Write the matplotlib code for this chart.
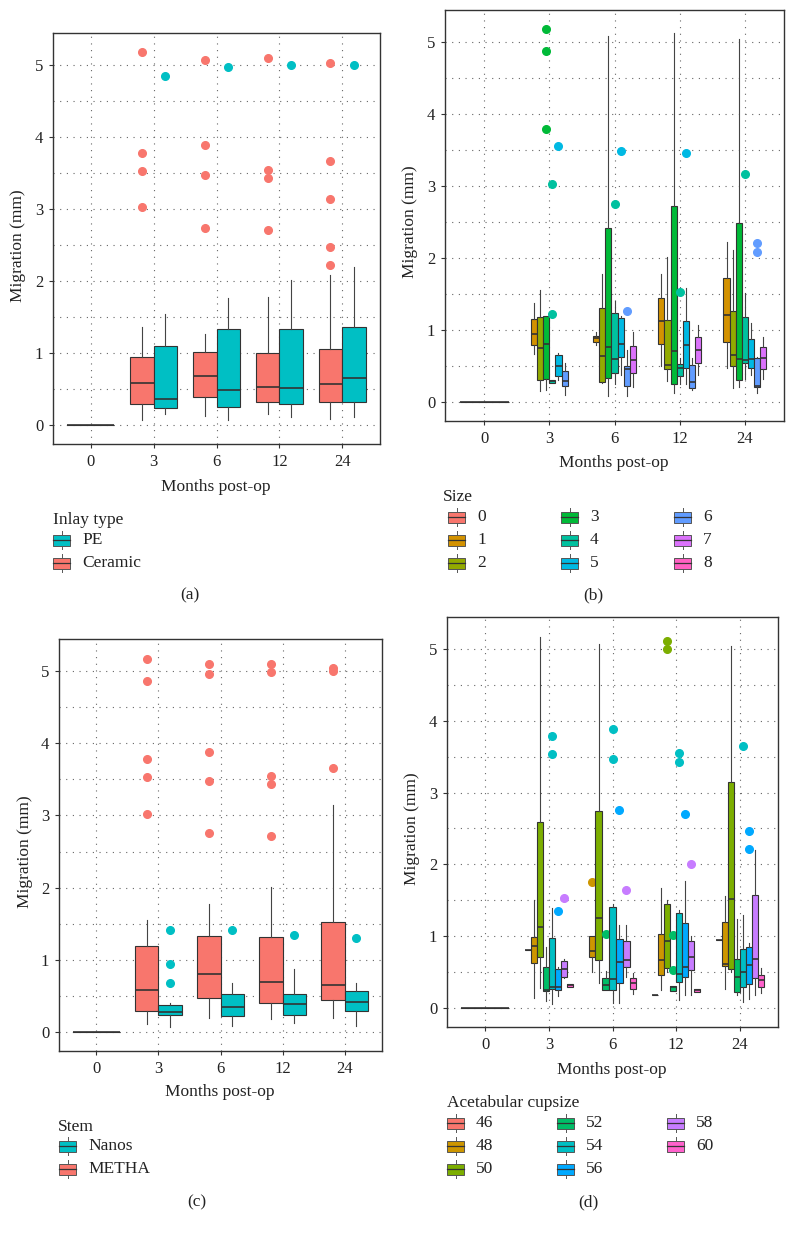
import matplotlib.pyplot as plt
from matplotlib.patches import Rectangle
import numpy as np

plt.rcParams['font.family'] = ['Liberation Serif', 'DejaVu Serif']

months = ['0', '3', '6', '12', '24']

# box stats per month: [whisker low, q1, median, q3, whisker high]; None = no group
# ---- (a) inlay type
a_levels = ['Ceramic', 'PE']
a_colors = ['#F8766D', '#00BFC4']
a_ceramic = [[0, 0, 0, 0, 0],
             [0.07, 0.30, 0.58, 0.94, 1.36],
             [0.13, 0.39, 0.68, 1.02, 1.26],
             [0.16, 0.32, 0.53, 1.00, 1.78],
             [0.09, 0.32, 0.57, 1.06, 2.09]]
a_ceramic_out = [[], [5.17, 3.78, 3.53, 3.02], [5.06, 3.88, 3.47, 2.74],
                 [5.10, 3.54, 3.43, 2.71], [5.02, 3.66, 3.14, 2.47, 2.22]]
a_pe = [None,
        [0.15, 0.24, 0.37, 1.10, 1.54],
        [0.07, 0.26, 0.49, 1.33, 1.76],
        [0.12, 0.30, 0.51, 1.34, 2.01],
        [0.12, 0.32, 0.66, 1.36, 2.20]]
a_pe_out = [[], [4.85], [4.97], [4.99], [5.00]]

# ---- (b) size
b_levels = ['0', '1', '2', '3', '4', '5', '6', '7', '8']
b_colors = ['#F8766D', '#D39200', '#93AA00', '#00BA38', '#00C19F',
            '#00B9E3', '#619CFF', '#DB72FB', '#FF61C3']
b_s0 = [[0, 0, 0, 0, 0], None, None, None, None]
b_s1 = [None, [0.67, 0.79, 0.94, 1.16, 1.37], [0.80, 0.84, 0.89, 0.92, 0.98],
        [0.50, 0.81, 1.12, 1.45, 1.78], [0.47, 0.84, 1.21, 1.72, 2.22]]
b_s2 = [None, [0.15, 0.31, 0.75, 1.18, 1.55], [0.27, 0.28, 0.64, 1.31, 1.78],
        [0.29, 0.46, 0.52, 1.14, 2.01], [0.20, 0.50, 0.65, 1.26, 2.11]]
b_s3 = [None, [0.17, 0.32, 0.81, 1.20, 1.20], [0.09, 0.33, 0.77, 2.42, 5.08],
        [0.13, 0.26, 0.71, 2.72, 5.12], [0.21, 0.31, 0.60, 2.48, 5.04]]
b_s4 = [None, [0.27, 0.27, 0.29, 0.31, 0.31], [0.26, 0.41, 0.60, 1.24, 1.41],
        [0.26, 0.36, 0.47, 0.53, 0.61], [0.32, 0.55, 0.59, 1.18, 1.51]]
b_s5 = [None, [0.31, 0.37, 0.50, 0.66, 0.68], [0.38, 0.63, 0.81, 1.17, 1.19],
        [0.26, 0.47, 0.80, 1.12, 1.58], [0.38, 0.48, 0.60, 0.88, 1.10]]
b_s6 = [None, [0.10, 0.23, 0.30, 0.44, 0.54], [0.08, 0.23, 0.46, 0.50, 0.73],
        [0.17, 0.20, 0.28, 0.51, 0.61], [0.13, 0.21, 0.23, 0.62, 0.63]]
b_s7 = [None, None, [0.21, 0.40, 0.59, 0.78, 0.97],
        [0.38, 0.54, 0.73, 0.90, 1.07], [0.32, 0.46, 0.62, 0.76, 0.91]]
b_s8 = [None, None, None, None, None]
b_out = {3: [[], [5.18, 4.87, 3.79], [], [], []],
         4: [[], [3.03, 1.23], [2.75], [1.53], [3.16]],
         5: [[], [3.55], [3.48], [3.45], []],
         6: [[], [], [1.27], [], [2.21, 2.09]]}

# ---- (c) stem
c_levels = ['METHA', 'Nanos']
c_colors = ['#F8766D', '#00BFC4']
c_metha = [[0, 0, 0, 0, 0],
           [0.11, 0.30, 0.59, 1.19, 1.55],
           [0.20, 0.48, 0.80, 1.33, 1.77],
           [0.18, 0.41, 0.69, 1.32, 2.01],
           [0.20, 0.45, 0.66, 1.53, 3.15]]
c_metha_out = [[], [5.17, 4.86, 3.78, 3.53, 3.02], [5.09, 4.96, 3.88, 3.47, 2.75],
               [5.10, 4.99, 3.55, 3.43, 2.71], [5.04, 5.00, 3.66]]
c_nanos = [None,
           [0.07, 0.24, 0.28, 0.37, 0.41],
           [0.08, 0.23, 0.35, 0.53, 0.68],
           [0.13, 0.24, 0.39, 0.53, 0.87],
           [0.09, 0.30, 0.42, 0.57, 0.68]]
c_nanos_out = [[], [1.41, 0.95, 0.68], [1.42], [1.34], [1.31]]

# ---- (d) acetabular cup size
d_levels = ['46', '48', '50', '52', '54', '56', '58', '60']
d_colors = ['#F8766D', '#CD9600', '#7CAE00', '#00BE67', '#00BFC4',
            '#00A9FF', '#C77CFF', '#FF61CC']
d_46 = [[0, 0, 0, 0, 0], [0.81] * 5, None, [0.18] * 5, [0.95] * 5]
d_48 = [None, [0.14, 0.63, 0.86, 0.99, 1.51], [0.51, 0.72, 0.79, 1.01, 1.01],
        [0.26, 0.46, 0.67, 1.03, 1.67], [0.27, 0.59, 0.62, 1.20, 1.56]]
d_50 = [None, [0.28, 0.72, 1.13, 2.59, 5.16], [0.35, 0.67, 1.26, 2.74, 5.06],
        [0.51, 0.56, 0.93, 1.45, 1.51], [0.51, 0.55, 1.52, 3.15, 5.03]]
d_52 = [None, [0.10, 0.24, 0.26, 0.57, 0.85], [0.25, 0.26, 0.33, 0.42, 0.52],
        [0.24, 0.24, 0.29, 0.31, 0.31], [0.18, 0.23, 0.44, 0.68, 1.24]]
d_54 = [None, [0.06, 0.27, 0.30, 0.98, 1.40], [0.07, 0.26, 0.41, 1.41, 1.45],
        [0.12, 0.36, 0.48, 1.33, 1.37], [0.09, 0.30, 0.51, 0.82, 1.30]]
d_56 = [None, [0.17, 0.26, 0.30, 0.55, 0.57], [0.07, 0.35, 0.65, 0.96, 1.16],
        [0.19, 0.44, 0.58, 1.19, 1.77], [0.13, 0.34, 0.60, 0.85, 0.91]]
d_58 = [None, [0.42, 0.44, 0.55, 0.66, 0.68], [0.44, 0.57, 0.67, 0.94, 1.16],
        [0.18, 0.53, 0.71, 0.94, 1.00], [0.19, 0.42, 0.68, 1.58, 2.20]]
d_60 = [None, [0.30, 0.30, 0.32, 0.34, 0.34], [0.20, 0.27, 0.35, 0.42, 0.49],
        [0.23, 0.23, 0.25, 0.27, 0.27], [0.21, 0.30, 0.40, 0.46, 0.56]]
d_out = {1: [[], [], [1.76], [], []],
         2: [[], [], [], [5.10, 4.99], []],
         3: [[], [], [1.03], [1.02, 0.53], []],
         4: [[], [3.78, 3.53], [3.88, 3.46], [3.55, 3.43], [3.65]],
         5: [[], [1.35], [2.75], [2.70], [2.47, 2.22]],
         6: [[], [1.54], [1.64], [2.01], []]}

EDGE = '#333333'
W, H = 795, 1234


def draw_panel(ax, colors, stats, outs, min_slots=1):
    for m in range(len(months)):
        present = [i for i in range(len(stats)) if stats[i][m] is not None]
        n = len(present)
        w = 0.75 / max(n, min_slots) if n > 1 else 0.75
        for j, i in enumerate(present):
            pos = m + 1 + (j - (n - 1) / 2) * w
            lo, q1, med, q3, hi = stats[i][m]
            bx = dict(whislo=lo, q1=q1, med=med, q3=q3, whishi=hi,
                      fliers=outs.get(i, [[]] * 5)[m])
            c = colors[i]
            ax.bxp([bx], positions=[pos], widths=w, patch_artist=True,
                   showcaps=False, manage_ticks=False,
                   boxprops=dict(facecolor=c, edgecolor=EDGE, linewidth=0.8),
                   medianprops=dict(color=EDGE, linewidth=1.2),
                   whiskerprops=dict(color='#444444', linewidth=0.8),
                   flierprops=dict(marker='o', markerfacecolor=c, markeredgecolor=c,
                                   markersize=5.5, linestyle='none'))
    ax.set_xlim(0.4, 5.6)
    ax.set_ylim(-0.26, 5.44)
    ax.set_xticks(range(1, 6))
    ax.set_xticklabels(months)
    ax.set_yticks(range(6))
    ax.set_yticks(np.arange(0.5, 5.5, 1), minor=True)
    ax.tick_params(which='major', direction='out', length=3, width=0.8,
                   color=EDGE, labelsize=12, labelcolor='#222222', pad=4)
    ax.tick_params(which='minor', length=0)
    ax.grid(True, which='both', linestyle=(0, (1, 5)), color='#666666', linewidth=0.8)
    ax.set_axisbelow(True)
    for s in ax.spines.values():
        s.set_color(EDGE)
        s.set_linewidth(1.0)


def add_axes_px(left, top, right, bottom):
    return fig.add_axes([left / W, 1 - bottom / H, (right - left) / W, (bottom - top) / H])


fig = plt.figure(figsize=(7.95, 12.34), dpi=100)

ax_a = add_axes_px(53, 33, 380, 444)
draw_panel(ax_a, a_colors, [a_ceramic, a_pe], {0: a_ceramic_out, 1: a_pe_out})

ax_b = add_axes_px(445, 10, 784, 421)
draw_panel(ax_b, b_colors, [b_s0, b_s1, b_s2, b_s3, b_s4, b_s5, b_s6, b_s7, b_s8],
           b_out, min_slots=8)

ax_c = add_axes_px(59, 639, 382, 1051)
draw_panel(ax_c, c_colors, [c_metha, c_nanos], {0: c_metha_out, 1: c_nanos_out})

ax_d = add_axes_px(447, 617, 778, 1027)
draw_panel(ax_d, d_colors, [d_46, d_48, d_50, d_52, d_54, d_56, d_58, d_60], d_out)

# overlay in pixel coordinates for labels, legends and captions
ov = fig.add_axes([0, 0, 1, 1])
ov.set_xlim(0, W)
ov.set_ylim(H, 0)
ov.axis('off')

FS = 12.5
for x, y in [(216, 487), (614, 463), (220, 1092), (612, 1070)]:
    ov.text(x, y, 'Months post-op', ha='center', va='center', fontsize=FS, color='#222222')
for x, y in [(18, 246), (410, 222), (25, 852), (412, 829)]:
    ov.text(x, y, 'Migration (mm)', ha='center', va='center', rotation=90,
            fontsize=FS, color='#222222')
for x, y, t in [(190, 595, '(a)'), (593, 595, '(b)'), (197, 1202, '(c)'), (588, 1202, '(d)')]:
    ov.text(x, y, t, ha='center', va='center', fontsize=FS, color='#222222')


def legend(title, tx, ty, entries):
    ov.text(tx, ty, title, ha='left', va='center', fontsize=FS, color='#222222')
    for label, color, sx, sy in entries:
        ov.plot([sx + 8.5, sx + 8.5], [sy - 9, sy + 9], color='#555555', lw=0.7)
        ov.add_patch(Rectangle((sx, sy - 5.5), 17, 11, facecolor=color,
                               edgecolor='#555555', lw=0.7, zorder=3))
        ov.plot([sx, sx + 17], [sy, sy], color=EDGE, lw=0.9, zorder=4)
        ov.text(sx + 29, sy, label, ha='left', va='center', fontsize=FS, color='#222222')


legend('Inlay type', 53, 520, [('PE', a_colors[1], 53, 540),
                                ('Ceramic', a_colors[0], 53, 563)])
legend('Stem', 58, 1127, [('Nanos', c_colors[1], 59, 1146),
                          ('METHA', c_colors[0], 59, 1169)])

b_cols = [448, 561, 674]
b_rows = [517, 540, 563]
legend('Size', 443, 497, [(b_levels[k], b_colors[k], b_cols[k // 3], b_rows[k % 3])
                          for k in range(len(b_levels))])

d_cols = [447, 557, 667]
d_rows = [1123, 1146, 1169]
legend('Acetabular cupsize', 447, 1103,
       [(d_levels[k], d_colors[k], d_cols[k // 3], d_rows[k % 3])
        for k in range(len(d_levels))])

fig.savefig('out.png', dpi=100)
